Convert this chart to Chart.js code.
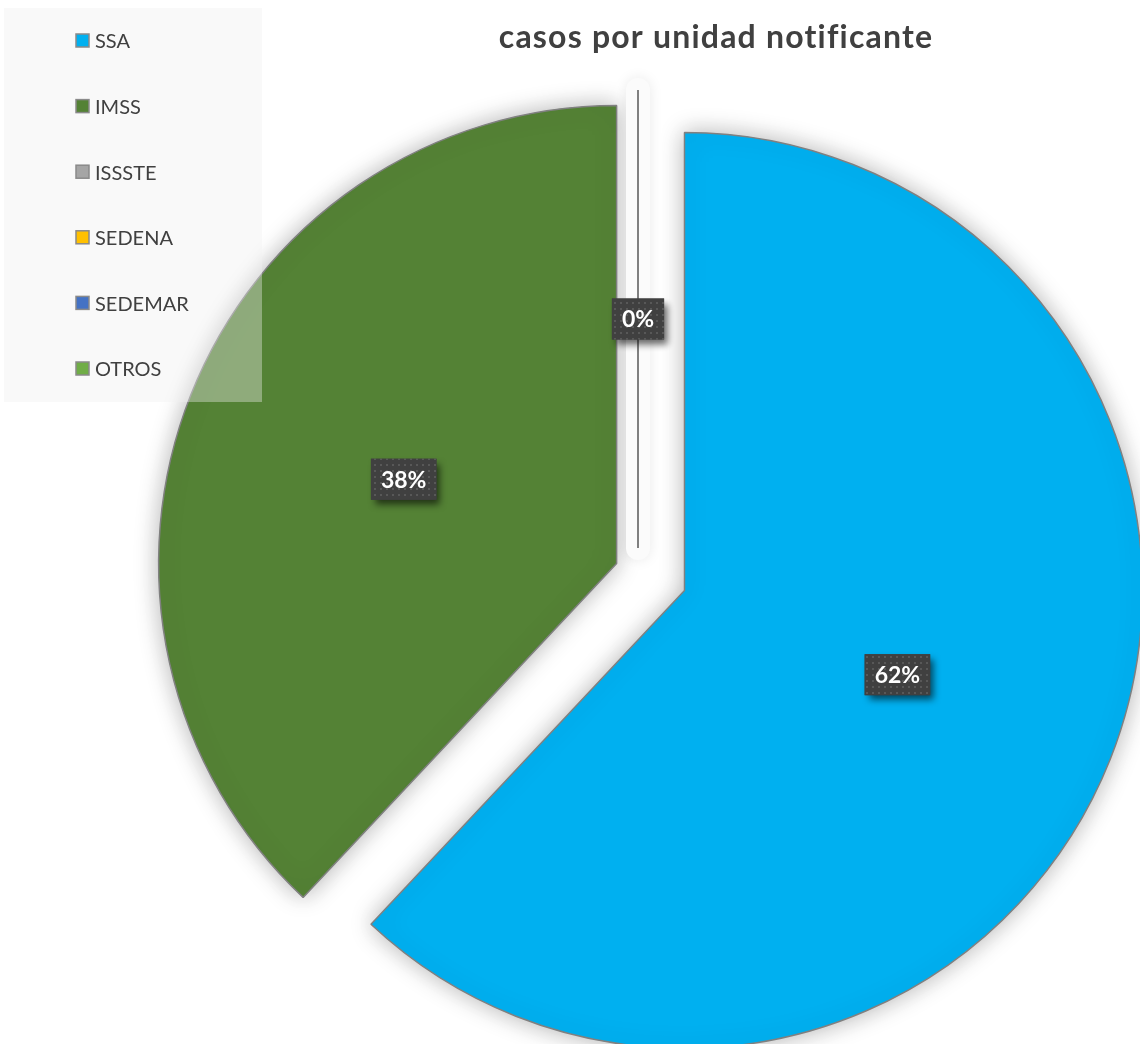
<!DOCTYPE html>
<html>
<head>
<meta charset="utf-8">
<title>casos por unidad notificante</title>
<script src="https://cdn.jsdelivr.net/npm/chart.js@4.4.1/dist/chart.umd.min.js"></script>
<style>
  html, body { margin: 0; padding: 0; background: #ffffff; }
  canvas { display: block; }
</style>
</head>
<body>
<canvas id="unidad-chart" width="1140" height="1044"></canvas>
<script>
// data
const units = ["SSA", "IMSS", "ISSSTE", "SEDENA", "SEDEMAR", "OTROS"];
const percentages = [62, 38, 0, null, null, null];
const unitColors = ["#00B0F0", "#548235", "#A5A5A5", "#FFC000", "#4472C4", "#70AD47"];
const chartTitle = "casos por unidad notificante";

// how far each slice is pulled out of the pie (px)
const explode = [50, 23, 24, 0, 0, 0];

const TEXT_COLOR = "#404040";
const FONT = "Lato, 'Open Sans', sans-serif";

// small dotted fill used on the value tags
function makeDotPattern(ctx) {
  const tile = document.createElement("canvas");
  tile.width = 6;
  tile.height = 6;
  const t = tile.getContext("2d");
  t.fillStyle = "#404040";
  t.fillRect(0, 0, 6, 6);
  t.fillStyle = "rgba(255,255,255,0.13)";
  t.fillRect(2, 2, 2, 2);
  return ctx.createPattern(tile, "repeat");
}

function sliceMid(arc) {
  return arc.circumference === 0 ? arc.startAngle : (arc.startAngle + arc.endAngle) / 2;
}

// move every slice out along its bisector
const explodePlugin = {
  id: "explodeSlices",
  afterDatasetUpdate(chart, args) {
    args.meta.data.forEach((arc, i) => {
      const mid = sliceMid(arc);
      arc.x += Math.cos(mid) * explode[i];
      arc.y += Math.sin(mid) * explode[i];
    });
  }
};

const decorPlugin = {
  id: "pieDecor",
  beforeDatasetsDraw(chart) {
    const ctx = chart.ctx;
    ctx.save();
    ctx.shadowColor = "rgba(0,0,0,0.3)";
    ctx.shadowBlur = 24;
  },
  afterDatasetsDraw(chart) {
    const ctx = chart.ctx;
    // zero-valued slices collapse into a single radial line
    chart.getDatasetMeta(0).data.forEach((arc, i) => {
      if (percentages[i] === null || arc.circumference !== 0) return;
      const x2 = arc.x + Math.cos(arc.startAngle) * arc.outerRadius;
      const y2 = arc.y + Math.sin(arc.startAngle) * arc.outerRadius;
      // faint halo behind the line
      ctx.save();
      ctx.shadowColor = "rgba(0,0,0,0.09)";
      ctx.shadowBlur = 14;
      ctx.strokeStyle = "#fbfbfb";
      ctx.lineWidth = 24;
      ctx.lineCap = "round";
      ctx.beginPath();
      ctx.moveTo(arc.x, arc.y);
      ctx.lineTo(x2, y2);
      ctx.stroke();
      ctx.restore();
      ctx.beginPath();
      ctx.moveTo(arc.x, arc.y);
      ctx.lineTo(x2, y2);
      ctx.strokeStyle = "#808080";
      ctx.lineWidth = 2;
      ctx.shadowColor = "transparent";
      ctx.stroke();
    });
    ctx.restore();
  },
  afterDraw(chart) {
    const ctx = chart.ctx;
    const meta = chart.getDatasetMeta(0);

    // legend panel
    ctx.save();
    ctx.fillStyle = "rgba(239,239,239,0.38)";
    ctx.fillRect(4, 8, 258, 394);
    ctx.font = "20px " + FONT;
    ctx.textBaseline = "middle";
    units.forEach((name, i) => {
      const y = 41 + i * 65.6;
      ctx.fillStyle = unitColors[i];
      ctx.fillRect(76, y - 7, 13, 13);
      ctx.strokeStyle = "#8a8a8a";
      ctx.lineWidth = 1.5;
      ctx.strokeRect(76, y - 7, 13, 13);
      ctx.fillStyle = TEXT_COLOR;
      ctx.fillText(name, 95, y + 1);
    });
    ctx.restore();

    // value tags at half radius
    const dots = makeDotPattern(ctx);
    meta.data.forEach((arc, i) => {
      if (percentages[i] === null) return;
      const mid = sliceMid(arc);
      const cx = arc.x + Math.cos(mid) * arc.outerRadius * 0.5;
      const cy = arc.y + Math.sin(mid) * arc.outerRadius * 0.5;
      const text = percentages[i] + "%";
      ctx.save();
      ctx.font = "bold 23px " + FONT;
      const w = ctx.measureText(text).width + 20;
      const h = 41;
      ctx.shadowColor = "rgba(0,0,0,0.6)";
      ctx.shadowBlur = 7;
      ctx.shadowOffsetX = 4;
      ctx.shadowOffsetY = 5;
      ctx.fillStyle = "#404040";
      ctx.fillRect(cx - w / 2, cy - h / 2, w, h);
      ctx.shadowColor = "transparent";
      ctx.fillStyle = dots;
      ctx.fillRect(cx - w / 2, cy - h / 2, w, h);
      ctx.fillStyle = "#ffffff";
      ctx.textAlign = "center";
      ctx.textBaseline = "middle";
      ctx.fillText(text, cx, cy + 1);
      ctx.restore();
    });

    // title
    ctx.save();
    ctx.font = "bold 32px " + FONT;
    ctx.letterSpacing = "1.2px";
    ctx.fillStyle = TEXT_COLOR;
    ctx.textAlign = "center";
    ctx.textBaseline = "alphabetic";
    ctx.fillText(chartTitle, 716, 48);
    ctx.restore();
  }
};

const ctx = document.getElementById("unidad-chart").getContext("2d");
new Chart(ctx, {
  type: "pie",
  data: {
    labels: units,
    datasets: [{
      data: percentages,
      backgroundColor: unitColors,
      borderColor: "#808080",
      borderWidth: 1.5
    }]
  },
  options: {
    responsive: false,
    animation: false,
    radius: 458,
    layout: { padding: { left: 136, right: 0, top: 100, bottom: 0 } },
    plugins: {
      legend: { display: false },
      title: { display: false },
      tooltip: { enabled: false }
    }
  },
  plugins: [explodePlugin, decorPlugin]
});
</script>
</body>
</html>
